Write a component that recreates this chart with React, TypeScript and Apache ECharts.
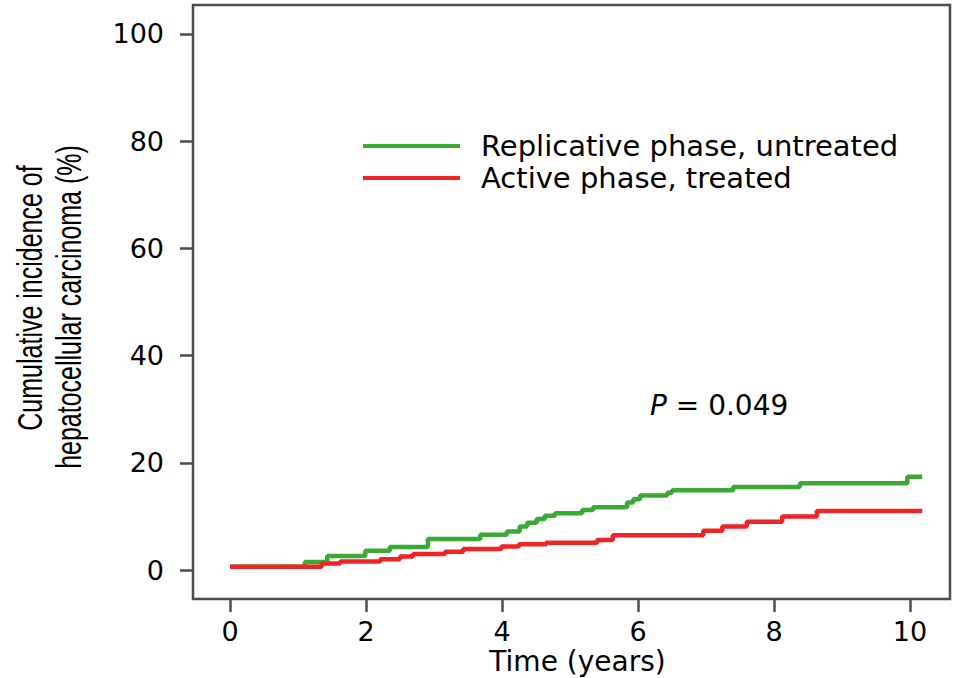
import React, { useEffect, useRef } from "react";
import * as echarts from "echarts";

// Cumulative incidence step curves (time in years, % after each step)
const greenName = "Replicative phase, untreated";
const greenTimes = [0, 1.1, 1.43, 1.99, 2.35, 2.91, 3.68, 4.07, 4.26, 4.37, 4.51, 4.63, 4.78, 5.18, 5.34, 5.84, 5.93, 6.03, 6.43, 6.5, 7.4, 8.38, 9.96, 10.18];
const greenValues = [0.6, 1.5, 2.6, 3.6, 4.3, 5.8, 6.6, 7.2, 8.1, 8.8, 9.5, 10.1, 10.6, 11.2, 11.7, 12.6, 13.2, 13.9, 14.4, 14.9, 15.5, 16.2, 17.4, 17.4];

const redName = "Active phase, treated";
const redTimes = [0, 1.35, 1.62, 2.21, 2.5, 2.69, 3.16, 3.43, 3.99, 4.25, 4.65, 5.4, 5.63, 6.96, 7.24, 7.6, 8.12, 8.63, 10.18];
const redValues = [0.6, 1.2, 1.6, 2.0, 2.5, 3.0, 3.4, 3.9, 4.4, 4.8, 5.1, 5.6, 6.5, 7.3, 8.1, 9.0, 10.0, 11.0, 11.0];

const xTicks = [0, 2, 4, 6, 8, 10];
const yTicks = [0, 20, 40, 60, 80, 100];
const yTitleLines = ["Cumulative incidence of", "hepatocellular carcinoma (%)"];
const pValue = "0.049";

const AXIS_COLOR = "#4d4d4d";
const FONT = "'DejaVu Sans', 'Liberation Sans', sans-serif";
const TITLE_FONT = "'Liberation Sans', Arial, sans-serif";

export default function App() {
  const ref = useRef<HTMLDivElement>(null);

  useEffect(() => {
    if (!ref.current) return;
    const chart = echarts.init(ref.current, undefined, { renderer: "svg" });

    const pairs = (t: number[], v: number[]) => t.map((x, i) => [x, v[i]]);

    // vertical axis title, two rotated lines with tall glyphs
    const yTitle = yTitleLines.map((line, i) => ({
      type: "text",
      x: i === 0 ? 29 : 68,
      y: i === 0 ? 298 : 307,
      rotation: Math.PI / 2,
      scaleY: 1.4,
      style: {
        text: line,
        fontSize: 25,
        fontFamily: TITLE_FONT,
        fill: "#000",
        align: "center",
        verticalAlign: "middle",
      },
    }));

    chart.setOption({
      animation: false,
      backgroundColor: "#ffffff",
      grid: {
        left: 193,
        right: 5,
        top: 5,
        bottom: 79,
        outerBoundsMode: "none",
        containLabel: false,
        show: true,
        borderColor: AXIS_COLOR,
        borderWidth: 2.5,
        backgroundColor: "transparent",
      },
      legend: {
        orient: "vertical",
        left: 363,
        top: 131,
        padding: 0,
        icon: "rect",
        itemWidth: 97,
        itemHeight: 4,
        itemGap: 2,
        textStyle: {
          fontSize: 29,
          fontFamily: FONT,
          color: "#000",
          lineHeight: 30,
          padding: [0, 0, 0, 16],
        },
        data: [greenName, redName],
      },
      xAxis: {
        type: "value",
        min: -0.544,
        max: 10.588,
        splitLine: { show: false },
        axisLine: { show: false, onZero: false },
        axisTick: {
          show: true,
          length: 13,
          customValues: xTicks,
          lineStyle: { color: AXIS_COLOR, width: 2.5 },
        },
        axisLabel: {
          customValues: xTicks,
          margin: 19,
          fontSize: 27,
          lineHeight: 26,
          fontFamily: FONT,
          color: "#000",
          formatter: (v: number) => String(Math.round(v)),
        },
        name: "Time (years)",
        nameLocation: "middle",
        nameGap: 48,
        nameMoveOverlap: false,
        nameTextStyle: {
          fontSize: 28,
          lineHeight: 28,
          fontFamily: FONT,
          color: "#000",
          padding: [0, 0, 0, 12],
        },
      },
      yAxis: {
        type: "value",
        min: -5.41,
        max: 105.41,
        splitLine: { show: false },
        axisLine: { show: false, onZero: false },
        axisTick: {
          show: true,
          length: 13,
          customValues: yTicks,
          lineStyle: { color: AXIS_COLOR, width: 2.5 },
        },
        axisLabel: {
          customValues: yTicks,
          margin: 29,
          fontSize: 27,
          fontFamily: FONT,
          color: "#000",
          formatter: (v: number) => String(Math.round(v)),
        },
      },
      graphic: [
        ...yTitle,
        {
          type: "text",
          left: 650,
          top: 391,
          style: {
            text: `{i|P} = ${pValue}`,
            rich: {
              i: { fontStyle: "italic", fontSize: 28, fontFamily: FONT, fill: "#000" },
            },
            fontSize: 28,
            fontFamily: FONT,
            fill: "#000",
          },
        },
      ],
      series: [
        {
          name: greenName,
          type: "line",
          step: "end",
          data: pairs(greenTimes, greenValues),
          showSymbol: false,
          symbol: "none",
          color: "#3aaa35",
          lineStyle: { color: "#3aaa35", width: 4.5 },
        },
        {
          name: redName,
          type: "line",
          step: "end",
          data: pairs(redTimes, redValues),
          showSymbol: false,
          symbol: "none",
          color: "#ee2524",
          lineStyle: { color: "#ee2524", width: 4.5 },
        },
      ],
    });

    return () => chart.dispose();
  }, []);

  return (
    <div
      ref={ref}
      style={{ position: "fixed", left: 0, top: 0, width: 955, height: 678, background: "#fff" }}
    />
  );
}
